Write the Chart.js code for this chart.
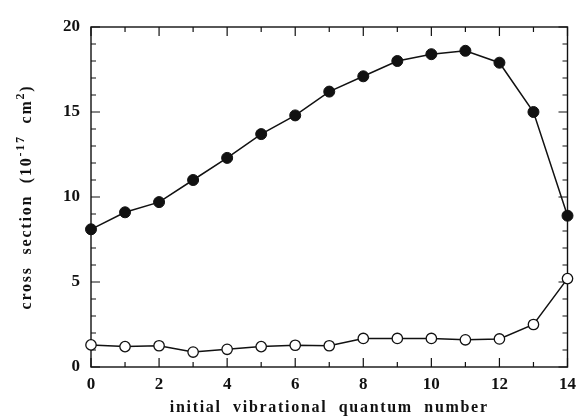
<!DOCTYPE html>
<html>
<head>
<meta charset="utf-8">
<script src="https://cdn.jsdelivr.net/npm/chart.js@4.4.1/dist/chart.umd.min.js"></script>
<style>
  html, body { margin: 0; padding: 0; background: #fff; }
  #wrap { width: 583px; height: 417px; }
</style>
</head>
<body>
<div id="wrap"><canvas id="crossChart"></canvas></div>
<script>
// Cross section vs. initial vibrational level
const quantumNumbers = [0, 1, 2, 3, 4, 5, 6, 7, 8, 9, 10, 11, 12, 13, 14];
const filledValues = [8.1, 9.1, 9.7, 11.0, 12.3, 13.7, 14.8, 16.2, 17.1, 18.0, 18.4, 18.6, 17.9, 15.0, 8.9];
const openValues = [1.3, 1.2, 1.25, 0.88, 1.04, 1.2, 1.28, 1.25, 1.68, 1.68, 1.68, 1.6, 1.65, 2.5, 5.2];
const xTickValues = [0, 2, 4, 6, 8, 10, 12, 14];
const yTickValues = [0, 5, 10, 15, 20];

const FONT = '"Liberation Serif", "Times New Roman", serif';
const INK = '#111';

function toPoints(values) {
    return quantumNumbers.map((q, i) => ({ x: q, y: values[i] }));
}

// Box frame, inward major/minor ticks on all four sides, and the axis titles
const framePlugin = {
    id: 'frameTicks',
    beforeDatasetsDraw(chart) {
        const { ctx, chartArea: a, scales } = chart;
        const xs = scales.x, ys = scales.y;
        ctx.save();
        ctx.strokeStyle = INK;
        ctx.lineWidth = 1.4;
        ctx.strokeRect(a.left, a.top, a.right - a.left, a.bottom - a.top);

        ctx.lineWidth = 1.2;
        ctx.beginPath();
        for (let v = 0; v <= 14; v++) {
            const px = xs.getPixelForValue(v);
            const len = v % 2 === 0 ? 9 : 5;
            ctx.moveTo(px, a.bottom); ctx.lineTo(px, a.bottom - len);
            ctx.moveTo(px, a.top); ctx.lineTo(px, a.top + len);
        }
        for (let v = 0; v <= 20; v++) {
            const py = ys.getPixelForValue(v);
            const len = v % 5 === 0 ? 9 : 5;
            ctx.moveTo(a.left, py); ctx.lineTo(a.left + len, py);
            ctx.moveTo(a.right, py); ctx.lineTo(a.right - len, py);
        }
        ctx.stroke();
        ctx.restore();
    },
    afterDraw(chart) {
        const { ctx, chartArea: a } = chart;
        ctx.save();
        ctx.fillStyle = INK;

        // x title
        ctx.font = 'bold 16px ' + FONT;
        ctx.letterSpacing = '1.7px';
        ctx.textAlign = 'center';
        ctx.textBaseline = 'alphabetic';
        ctx.fillText('initial  vibrational  quantum  number', (a.left + a.right) / 2, 412);

        // y title with superscripts, rotated
        const parts = [
            { t: 'cross  section  (10', sup: false },
            { t: '-17', sup: true },
            { t: '  cm', sup: false },
            { t: '2', sup: true },
            { t: ')', sup: false }
        ];
        const big = 'bold 16px ' + FONT, small = 'bold 12px ' + FONT;
        ctx.letterSpacing = '1.8px';
        let total = 0;
        parts.forEach(p => { ctx.font = p.sup ? small : big; p.w = ctx.measureText(p.t).width; total += p.w; });
        ctx.translate(31, (a.top + a.bottom) / 2);
        ctx.rotate(-Math.PI / 2);
        ctx.textAlign = 'left';
        let x = -total / 2;
        parts.forEach(p => {
            ctx.font = p.sup ? small : big;
            ctx.fillText(p.t, x, p.sup ? -7 : 0);
            x += p.w;
        });
        ctx.restore();
    }
};

new Chart(document.getElementById('crossChart'), {
    type: 'line',
    data: {
        datasets: [{
            data: toPoints(filledValues),
            borderColor: INK,
            backgroundColor: INK,
            borderWidth: 1.5,
            pointRadius: 5.5,
            pointBorderWidth: 1,
            pointBorderColor: INK,
            pointBackgroundColor: INK,
            tension: 0,
            clip: false
        }, {
            data: toPoints(openValues),
            borderColor: INK,
            backgroundColor: '#fff',
            borderWidth: 1.5,
            pointRadius: 5.2,
            pointBorderWidth: 1.3,
            pointBorderColor: INK,
            pointBackgroundColor: '#fff',
            tension: 0,
            clip: false
        }]
    },
    options: {
        responsive: true,
        maintainAspectRatio: false,
        animation: false,
        layout: { padding: { left: 0, right: 8, top: 27, bottom: 0 } },
        plugins: {
            legend: { display: false },
            tooltip: { enabled: false }
        },
        scales: {
            x: {
                type: 'linear',
                min: 0,
                max: 14,
                grid: { display: false, drawTicks: false },
                border: { display: false },
                afterBuildTicks: s => { s.ticks = xTickValues.map(v => ({ value: v })); },
                afterFit: s => { s.height = 50; },
                ticks: {
                    color: INK,
                    padding: 7,
                    maxRotation: 0,
                    font: { family: FONT, size: 17, weight: 'bold' }
                }
            },
            y: {
                type: 'linear',
                min: 0,
                max: 20,
                grid: { display: false, drawTicks: false },
                border: { display: false },
                afterBuildTicks: s => { s.ticks = yTickValues.map(v => ({ value: v })); },
                afterFit: s => { s.width = 91; },
                ticks: {
                    color: INK,
                    padding: 11,
                    font: { family: FONT, size: 17, weight: 'bold' }
                }
            }
        }
    },
    plugins: [framePlugin]
});
</script>
</body>
</html>
